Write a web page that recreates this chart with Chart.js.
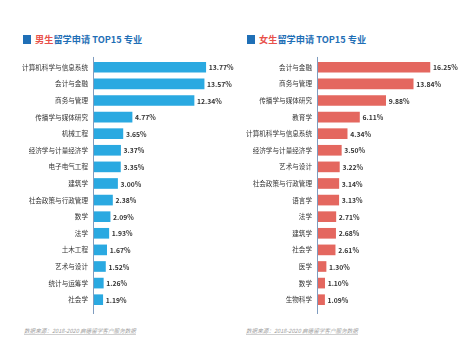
<!DOCTYPE html>
<html>
<head>
<meta charset="utf-8">
<script src="https://cdn.jsdelivr.net/npm/chart.js@4"></script>
<style>
  body { margin: 0; background: #fff; font-family: "Noto Sans CJK SC", sans-serif; }
  #wrap { position: relative; width: 476px; height: 362px; overflow: hidden; }
  .box { position: absolute; top: 50px; width: 238px; height: 270px; }
  .title { position: absolute; top: 32px; font-size: 9.2px; font-weight: bold; color: #1f6fb6; white-space: nowrap; line-height: 14px; }
  .title .sq { display: inline-block; width: 8px; height: 9px; background: #1f6fb6; margin-right: 4px; vertical-align: -1px; }
  .title .hl { color: #e8504a; }
  .src { position: absolute; top: 327px; font-size: 5.6px; font-style: italic; color: #a0a0a0; text-decoration: underline; text-decoration-color: #d0d0d0; white-space: nowrap; }
</style>
</head>
<body>
<div id="wrap">
  <div class="title" style="left:23px"><span class="sq"></span><span class="hl">男生</span>留学申请 TOP15 专业</div>
  <div class="title" style="left:247px"><span class="sq"></span><span class="hl">女生</span>留学申请 TOP15 专业</div>
  <div class="box" style="left:0"><canvas id="male"></canvas></div>
  <div class="box" style="left:238px"><canvas id="female"></canvas></div>
  <div class="src" style="left:24px">数据来源：2018-2020 启德留学客户服务数据</div>
  <div class="src" style="left:246px">数据来源：2018-2020 启德留学客户服务数据</div>
</div>
<script>
const maleMajors = ["计算机科学与信息系统", "会计与金融", "商务与管理", "传播学与媒体研究", "机械工程", "经济学与计量经济学", "电子电气工程", "建筑学", "社会政策与行政管理", "数学", "法学", "土木工程", "艺术与设计", "统计与运筹学", "社会学"];
const maleValues = [13.77, 13.57, 12.34, 4.77, 3.65, 3.37, 3.35, 3.00, 2.38, 2.09, 1.93, 1.67, 1.52, 1.26, 1.19];

const femaleMajors = ["会计与金融", "商务与管理", "传播学与媒体研究", "教育学", "计算机科学与信息系统", "经济学与计量经济学", "艺术与设计", "社会政策与行政管理", "语言学", "法学", "建筑学", "社会学", "医学", "数学", "生物科学"];
const femaleValues = [16.25, 13.84, 9.88, 6.11, 4.34, 3.50, 3.22, 3.14, 3.13, 2.71, 2.68, 2.61, 1.30, 1.10, 1.09];

const fontFamily = '"Noto Sans CJK SC", sans-serif';

// axis line and value labels
const extras = {
  id: 'extras',
  afterDatasetsDraw(chart) {
    const ctx = chart.ctx;
    const area = chart.chartArea;
    ctx.save();
    ctx.strokeStyle = '#7f9cbf';
    ctx.lineWidth = 1;
    ctx.beginPath();
    ctx.moveTo(area.left + 0.5, area.top - 2);
    ctx.lineTo(area.left + 0.5, area.bottom + 6);
    ctx.stroke();

    ctx.fillStyle = '#333';
    ctx.font = 'bold 6.8px ' + fontFamily;
    ctx.textAlign = 'left';
    ctx.textBaseline = 'middle';
    const meta = chart.getDatasetMeta(0);
    meta.data.forEach((bar, i) => {
      const v = chart.data.datasets[0].data[i];
      ctx.fillText(v.toFixed(2) + '%', bar.x + 3, bar.y + 0.5);
    });
    ctx.restore();
  }
};

function makeChart(id, labels, values, color, xMax, axisLeft, padRight) {
  const ctx = document.getElementById(id).getContext('2d');
  return new Chart(ctx, {
    type: 'bar',
    data: {
      labels: labels,
      datasets: [{
        data: values,
        backgroundColor: color,
        barThickness: 10
      }]
    },
    options: {
      indexAxis: 'y',
      responsive: true,
      maintainAspectRatio: false,
      animation: false,
      layout: { padding: { top: 8, bottom: 12, left: 0, right: padRight } },
      plugins: {
        legend: { display: false },
        tooltip: { enabled: false }
      },
      scales: {
        x: { display: false, min: 0, max: xMax },
        y: {
          grid: { display: false, drawTicks: false },
          border: { display: false },
          ticks: {
            padding: 5,
            color: '#333',
            font: { size: 6.6, family: fontFamily }
          },
          afterFit(scale) { scale.width = axisLeft; }
        }
      }
    },
    plugins: [extras]
  });
}

makeChart('male', maleMajors, maleValues, '#2aa9e1', 16, 93, 14);
makeChart('female', femaleMajors, femaleValues, '#e4675f', 20, 79, 20);
</script>
</body>
</html>
